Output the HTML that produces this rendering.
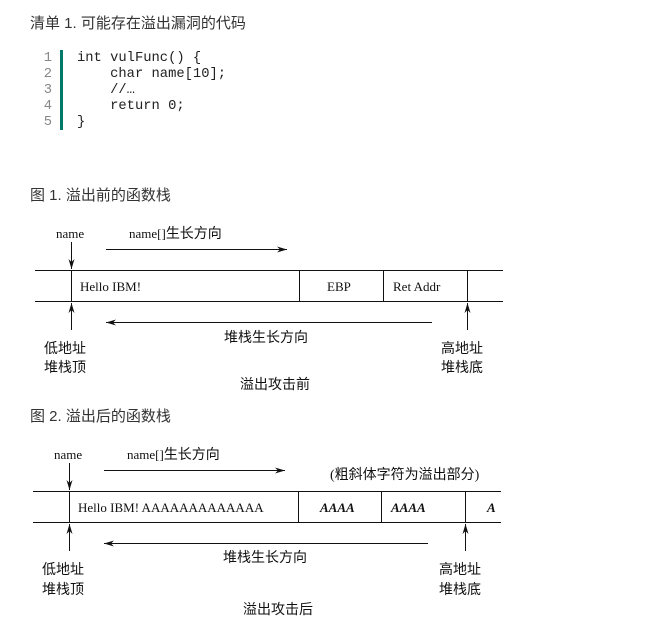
<!DOCTYPE html>
<html><head><meta charset="utf-8"><style>
body{margin:0;background:#fff;width:661px;height:626px;overflow:hidden;position:relative}
.h{position:absolute;left:30px;font:15px "Liberation Sans","Noto Sans CJK SC",sans-serif;color:#333;white-space:nowrap}
.code{position:absolute;font:13.8px/16px "Liberation Mono",monospace;color:#222;white-space:pre}
</style></head><body>
<div class="h" style="top:12px">清单 1. 可能存在溢出漏洞的代码</div>
<div class="code" style="left:40px;top:51px;color:#888;text-align:right;width:12px">1
2
3
4
5</div>
<div style="position:absolute;left:60px;top:50px;width:3px;height:80px;background:#00796b"></div>
<div class="code" style="left:77px;top:51px">int vulFunc() {
    char name[10];
    //…
    return 0;
}</div>
<div class="h" style="top:184px">图 1. 溢出前的函数栈</div>
<div class="h" style="top:405px">图 2. 溢出后的函数栈</div>
<svg width="661" height="626" style="position:absolute;left:0;top:0" font-family="Liberation Serif, Noto Sans CJK SC, serif" font-size="13" fill="#111">
<defs><marker id="a" markerWidth="10" markerHeight="6" refX="10" refY="3" orient="auto" markerUnits="userSpaceOnUse"><path d="M0,0 L10,3 L0,6 L3,3z" fill="#111"/></marker></defs>
<g stroke="#111" stroke-width="1" fill="none">
<line x1="35" y1="270.5" x2="503" y2="270.5"/><line x1="35" y1="301.5" x2="503" y2="301.5"/>
<line x1="299.5" y1="270" x2="299.5" y2="301"/><line x1="383.5" y1="270" x2="383.5" y2="301"/><line x1="467.5" y1="270" x2="467.5" y2="301"/>
<line x1="71.5" y1="270" x2="71.5" y2="301"/>
<line x1="71.5" y1="242" x2="71.5" y2="269" marker-end="url(#a)"/>
<line x1="71.5" y1="330" x2="71.5" y2="303" marker-end="url(#a)"/>
<line x1="467.5" y1="330" x2="467.5" y2="303" marker-end="url(#a)"/>
<line x1="106" y1="249.5" x2="287" y2="249.5" marker-end="url(#a)"/>
<line x1="432" y1="322.5" x2="106" y2="322.5" marker-end="url(#a)"/>

<line x1="33" y1="491.5" x2="501" y2="491.5"/><line x1="33" y1="522.5" x2="501" y2="522.5"/>
<line x1="298.5" y1="491" x2="298.5" y2="522"/><line x1="381.5" y1="491" x2="381.5" y2="522"/><line x1="465.5" y1="491" x2="465.5" y2="522"/>
<line x1="69.5" y1="491" x2="69.5" y2="522"/>
<line x1="69.5" y1="463" x2="69.5" y2="490" marker-end="url(#a)"/>
<line x1="69.5" y1="551" x2="69.5" y2="524" marker-end="url(#a)"/>
<line x1="465.5" y1="551" x2="465.5" y2="524" marker-end="url(#a)"/>
<line x1="104" y1="470.5" x2="285" y2="470.5" marker-end="url(#a)"/>
<line x1="428" y1="543.5" x2="104" y2="543.5" marker-end="url(#a)"/>
</g>
<g font-size="14">
<text x="224" y="342">堆栈生长方向</text>
<text x="44" y="353">低地址</text><text x="44" y="372">堆栈顶</text>
<text x="441" y="353">高地址</text><text x="441" y="372">堆栈底</text>
<text x="240" y="389">溢出攻击前</text>
<text x="330" y="479">(粗斜体字符为溢出部分)</text>
<text x="223" y="562">堆栈生长方向</text>
<text x="42" y="574">低地址</text><text x="42" y="594">堆栈顶</text>
<text x="439" y="574">高地址</text><text x="439" y="594">堆栈底</text>
<text x="243" y="614">溢出攻击后</text>
</g>
<text x="56" y="238">name</text>
<text x="129" y="238">name[]<tspan font-size="14">生长方向</tspan></text>
<text x="80" y="291">Hello IBM!</text>
<text x="327" y="291">EBP</text>
<text x="393" y="291">Ret Addr</text>

<text x="54" y="459">name</text>
<text x="127" y="459">name[]<tspan font-size="14">生长方向</tspan></text>
<text x="78" y="512">Hello IBM! AAAAAAAAAAAAA</text>
<text x="320" y="512" font-weight="bold" font-style="italic">AAAA</text>
<text x="391" y="512" font-weight="bold" font-style="italic">AAAA</text>
<text x="487" y="512" font-weight="bold" font-style="italic">A</text>
</svg>
</body></html>
